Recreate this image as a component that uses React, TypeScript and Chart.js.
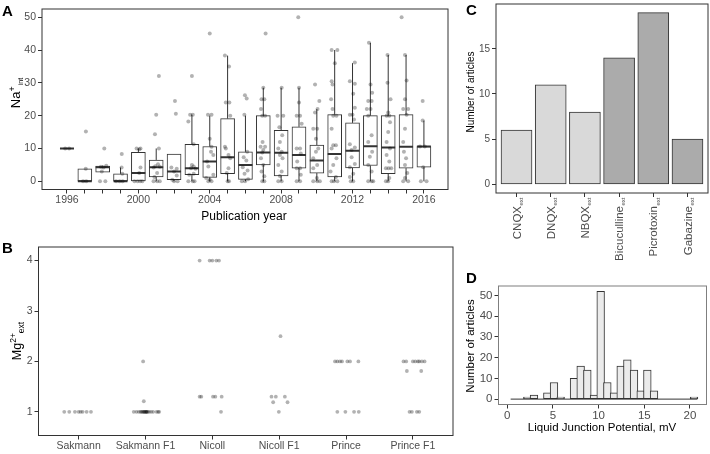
import React, { useEffect, useRef } from 'react';
import { Chart, registerables } from 'chart.js';

Chart.register(...registerables);

const FONT = '"Liberation Sans", Arial, Helvetica, sans-serif';
const TICK_COLOR = '#4d4d4d';
const INK = '#333333';
const POINT = 'rgba(0,0,0,0.3)';
const FIG_W = 710;
const FIG_H = 454;

// ---------------- Panel A: Na+ int by publication year ----------------
const naYears = [1996, 1997, 1998, 1999, 2000, 2001, 2002, 2003, 2004, 2005, 2006, 2007, 2008, 2009, 2010, 2011, 2012, 2013, 2014, 2015, 2016];
const naLow = [10, 0, 2.8, 0, 0, 0, 0, 0, 0, 0, 0, 0, 0, 0, 0, 0, 0, 0, 0, 0, 0];
const naQ1 = [10, 0, 2.8, 0, 0, 1.3, 0.5, 2, 1.2, 2.3, 0.6, 5, 1.6, 4, 2.5, 1.3, 4.1, 4.8, 2.3, 4, 4.3];
const naMedian = [10, 0, 4.3, 0, 2.5, 4.3, 3, 4, 6, 7.3, 5, 8.8, 8.7, 8, 6.3, 8.3, 9.3, 10.7, 10.3, 10.5, 10.6];
const naQ3 = [10, 3.8, 4.6, 2.3, 8.8, 6.5, 8.3, 11.3, 10.6, 19.1, 9, 20, 15.5, 16.6, 11, 20.3, 17.8, 20, 20, 20.3, 10.6];
const naHigh = [10, 3.8, 4.8, 4.2, 10, 10, 8.3, 20.3, 20, 38.3, 20, 28.5, 28.5, 28.5, 22, 40, 36, 42.2, 38.5, 38.5, 18.5];
const naYTicks = [0, 10, 20, 30, 40, 50];
const naXLabelEvery = 4;
// [year, Na+ value, horizontal jitter in years]
const naPoints: [number, number, number][] = [
  [1996, 10, -0.1], [1996, 10, 0.12],
  [1997, 15.2, 0.06], [1997, 3.8, 0.05], [1997, 0, -0.1], [1997, 0, 0.08],
  [1998, 10, 0.09], [1998, 4.7, 0.2], [1998, 4.4, -0.1], [1998, 4.2, 0.05], [1998, 3, -0.05], [1998, 0, -0.15], [1998, 0, 0.15],
  [1999, 8.3, 0.07], [1999, 4.2, 0.06], [1999, 2.3, 0.1], [1999, 0, -0.25], [1999, 0, -0.05], [1999, 0, 0.12],
  [2000, 10, -0.1], [2000, 10, 0.12], [2000, 9.8, 0.05], [2000, 4.2, 0.12], [2000, 2.5, 0.05], [2000, 0, -0.22], [2000, 0, -0.05], [2000, 0, 0.1], [2000, 0, 0.22],
  [2001, 32.1, 0.15], [2001, 20.3, 0], [2001, 14.3, -0.07], [2001, 10, 0.15], [2001, 5.2, 0.1], [2001, 4.6, -0.05], [2001, 4.4, 0.2], [2001, 4.2, -0.15], [2001, 2.5, 0.05], [2001, 1.3, -0.1], [2001, 0, -0.15], [2001, 0, 0.05], [2001, 0, 0.2],
  [2002, 24.5, 0.05], [2002, 20.6, 0.1], [2002, 4.2, -0.15], [2002, 3.8, 0.15], [2002, 3, 0], [2002, 1.8, 0.15], [2002, 0.5, -0.1], [2002, 0, 0], [2002, 0, 0.2],
  [2003, 32.1, 0], [2003, 20.3, 0.05], [2003, 20.3, -0.1], [2003, 18.2, -0.2], [2003, 11.3, 0.1], [2003, 5, 0], [2003, 4.5, 0.1], [2003, 4, -0.05], [2003, 3.8, 0.2], [2003, 2.3, 0.1], [2003, 2, -0.15], [2003, 0, -0.2], [2003, 0, 0.05], [2003, 0, 0.15],
  [2004, 45, 0], [2004, 20.3, -0.1], [2004, 20.3, 0.1], [2004, 13, 0], [2004, 10.5, 0.1], [2004, 9, 0.07], [2004, 8, 0.2], [2004, 6, -0.15], [2004, 4.5, -0.08], [2004, 2, 0.2], [2004, 1, -0.2], [2004, 0.5, 0], [2004, 0, -0.08], [2004, 0, 0.1],
  [2005, 38.3, -0.15], [2005, 35, 0.08], [2005, 24, 0.1], [2005, 24, -0.1], [2005, 20, 0.15], [2005, 10.5, -0.15], [2005, 10, -0.1], [2005, 8, 0.05], [2005, 7, 0.15], [2005, 4, 0.05], [2005, 2.5, -0.05], [2005, 0, 0], [2005, 0, 0.08],
  [2006, 26.2, -0.03], [2006, 25.2, 0.07], [2006, 20.3, -0.06], [2006, 9, 0.1], [2006, 7.3, -0.1], [2006, 6.3, 0.05], [2006, 4.3, -0.15], [2006, 3.3, 0.12], [2006, 2.3, -0.05], [2006, 0.6, 0.15], [2006, 0, -0.2], [2006, 0, -0.02],
  [2007, 45, 0.13], [2007, 28.5, 0], [2007, 25, -0.1], [2007, 25, 0.06], [2007, 22, -0.13], [2007, 20, -0.06], [2007, 20, 0.1], [2007, 12, -0.04], [2007, 10.5, -0.15], [2007, 10.5, 0.1], [2007, 9.5, 0], [2007, 8.8, -0.06], [2007, 7, -0.13], [2007, 5, 0], [2007, 3, -0.1], [2007, 1.5, 0.06], [2007, 0, -0.06], [2007, 0, 0.06],
  [2008, 28.5, 0.03], [2008, 20, -0.2], [2008, 20, 0.12], [2008, 16.5, -0.1], [2008, 14, 0.06], [2008, 12, -0.07], [2008, 10, -0.16], [2008, 9, 0.03], [2008, 8, -0.07], [2008, 7, 0.08], [2008, 5, -0.16], [2008, 3, 0.03], [2008, 1.6, -0.07], [2008, 0, -0.16], [2008, 0, 0.03],
  [2009, 50, -0.04], [2009, 28.5, 0], [2009, 24, 0], [2009, 20, -0.13], [2009, 20, 0.06], [2009, 17.5, 0.15], [2009, 10, -0.13], [2009, 10, 0.06], [2009, 8.5, 0.1], [2009, 6, -0.1], [2009, 4, -0.13], [2009, 4, 0.06], [2009, 2, 0.1], [2009, 0, -0.13], [2009, 0, 0.06],
  [2010, 29.5, -0.1], [2010, 24.5, 0.14], [2010, 22, 0.04], [2010, 21, -0.1], [2010, 16, -0.2], [2010, 16, 0.02], [2010, 13, -0.05], [2010, 10, 0.08], [2010, 9, -0.05], [2010, 7, -0.2], [2010, 5, 0.02], [2010, 4, -0.2], [2010, 1, 0], [2010, 0, -0.2], [2010, 0, 0.02], [2010, 0, 0.17],
  [2011, 40, -0.17], [2011, 40, 0.15], [2011, 36, 0.01], [2011, 30.5, -0.17], [2011, 29.5, -0.12], [2011, 25, -0.2], [2011, 22, -0.12], [2011, 20, -0.08], [2011, 20, 0.1], [2011, 16, -0.17], [2011, 11, -0.08], [2011, 11, 0.07], [2011, 10, -0.17], [2011, 7, 0.1], [2011, 5, -0.08], [2011, 3, -0.23], [2011, 1.3, 0.07], [2011, 0, -0.17], [2011, 0, -0.04], [2011, 0, 0.15],
  [2012, 36.2, 0.13], [2012, 30.5, -0.15], [2012, 29.7, 0.13], [2012, 26.7, 0.04], [2012, 22.4, 0.13], [2012, 20.3, -0.15], [2012, 20.3, 0], [2012, 18.8, 0.08], [2012, 11.3, -0.15], [2012, 10.3, 0.13], [2012, 9.5, -0.05], [2012, 7.3, -0.05], [2012, 5.3, 0.13], [2012, 4.3, -0.15], [2012, 2.3, 0.04], [2012, 1.3, -0.15], [2012, 0, -0.1], [2012, 0, 0.04],
  [2013, 42.2, -0.08], [2013, 29.5, 0.01], [2013, 27, 0.1], [2013, 24.5, -0.12], [2013, 24.5, 0.07], [2013, 22, -0.2], [2013, 22, 0.01], [2013, 20, -0.12], [2013, 14, 0.07], [2013, 12, -0.12], [2013, 9, 0.1], [2013, 7.5, -0.03], [2013, 5, -0.12], [2013, 3, 0.07], [2013, 0, -0.12], [2013, 0, 0.07], [2013, 0, 0.16],
  [2014, 38.5, -0.04], [2014, 30, -0.04], [2014, 25, 0.13], [2014, 21, 0], [2014, 20, -0.09], [2014, 20, 0.06], [2014, 18, 0.1], [2014, 15, 0], [2014, 12, -0.09], [2014, 10, 0.1], [2014, 8, -0.09], [2014, 6, 0.06], [2014, 4, -0.13], [2014, 4, 0.02], [2014, 4, 0.17], [2014, 1, 0.06], [2014, 0, -0.13], [2014, 0, 0],
  [2015, 50, -0.25], [2015, 38.5, -0.06], [2015, 30.7, 0.03], [2015, 25, -0.06], [2015, 22, -0.16], [2015, 22, 0.12], [2015, 20.3, 0.03], [2015, 16, -0.06], [2015, 12, -0.16], [2015, 9, -0.12], [2015, 7, 0], [2015, 5, -0.06], [2015, 2.5, 0.07], [2015, 1, -0.06], [2015, 0, -0.16], [2015, 0, 0.12],
  [2016, 24.5, -0.07], [2016, 18.5, -0.07], [2016, 10.6, -0.22], [2016, 10.6, 0.05], [2016, 4.3, -0.04], [2016, 0, -0.17], [2016, 0, 0.15],
];

// ---------------- Panel B: Mg2+ ext by protocol ----------------
const mgProtocols = ['Sakmann', 'Sakmann F1', 'Nicoll', 'Nicoll F1', 'Prince', 'Prince F1'];
const mgYTicks = [1, 2, 3, 4];
// [protocol index, Mg2+ value, horizontal jitter]
const mgPoints: [number, number, number][] = [
  [0, 1, -0.215], [0, 1, -0.14], [0, 1, -0.055], [0, 1, 0], [0, 1, 0.03], [0, 1, 0.06], [0, 1, 0.12], [0, 1, 0.185],
  [1, 1, -0.175], [1, 1, -0.135], [1, 1, -0.1], [1, 1, -0.075], [1, 1, -0.06], [1, 1, -0.045], [1, 1, -0.03], [1, 1, -0.02], [1, 1, -0.015],
  [1, 1, 0], [1, 1, 0.01], [1, 1, 0.015], [1, 1, 0.02], [1, 1, 0.035], [1, 1, 0.055], [1, 1, 0.085], [1, 1, 0.115], [1, 1, 0.165], [1, 1, 0.19], [1, 1, 0.205],
  [1, 2, -0.035], [1, 1.21, -0.025],
  [2, 4, -0.19], [2, 4, -0.04], [2, 4, 0], [2, 4, 0.06], [2, 4, 0.1],
  [2, 1.3, -0.19], [2, 1.3, -0.165], [2, 1.3, 0.01], [2, 1.3, 0.045], [2, 1.3, 0.14], [2, 1, 0.13],
  [3, 2.5, 0.02], [3, 1.3, -0.115], [3, 1.3, -0.05], [3, 1.3, 0.085], [3, 1.19, -0.09], [3, 1.19, 0.125], [3, 1, -0.005],
  [4, 2, -0.165], [4, 2, -0.13], [4, 2, -0.09], [4, 2, -0.06], [4, 2, 0.02], [4, 2, 0.06], [4, 2, 0.185],
  [4, 1, -0.13], [4, 1, -0.01], [4, 1, 0.12], [4, 1, 0.19],
  [5, 2, -0.14], [5, 2, -0.1], [5, 2, 0], [5, 2, 0.035], [5, 2, 0.075], [5, 2, 0.095], [5, 2, 0.135], [5, 2, 0.175],
  [5, 1.81, -0.09], [5, 1.81, 0.125], [5, 1, -0.05], [5, 1, -0.015], [5, 1, 0.06], [5, 1, 0.095],
];

// ---------------- Panel C: antagonists ----------------
const antagonists = ['CNQX', 'DNQX', 'NBQX', 'Bicuculline', 'Picrotoxin', 'Gabazine'];
const antagonistSubscript = 'ext';
const antagonistArticles = [6, 11, 8, 14, 19, 5];
const antagonistTarget = ['AMPA', 'AMPA', 'AMPA', 'GABA', 'GABA', 'GABA'];
const antagonistYTicks = [0, 5, 10, 15];

// ---------------- Panel D: liquid junction potential histogram ----------------
const ljpBinStart = 0.37;
const ljpBinWidth = 0.73;
const ljpCounts = [0, 0, 1, 2, 0, 3, 8, 1, 0, 10, 16, 14, 2, 52, 8, 3, 16, 19, 14, 4, 14, 4, 0, 0, 0, 0, 0, 1];
const ljpXTicks = [0, 5, 10, 15, 20];
const ljpYTicks = [0, 10, 20, 30, 40, 50];

// ---------------- layout (plot rectangles in page px) ----------------
type Rect = { l: number; t: number; r: number; b: number };
const rectA: Rect = { l: 42, t: 5, r: 448, b: 189.5 };
const rectB: Rect = { l: 38.5, t: 247, r: 453, b: 435.5 };
const rectC: Rect = { l: 496, t: 4, r: 708, b: 193 };
const rectD: Rect = { l: 498.5, t: 286, r: 706.5, b: 404.5 };

const TICK_LEN = 4;

function padding(rect: Rect, yW: number, xH: number) {
  return { left: rect.l - yW, top: rect.t, right: FIG_W - rect.r, bottom: FIG_H - rect.b - xH };
}

function gridOpts() {
  return { drawOnChartArea: false, drawTicks: true, tickLength: TICK_LEN, color: INK, tickColor: INK, tickWidth: 1, offset: false };
}

function yAxis(min: number, max: number, ticks: number[], size: number, width: number) {
  return {
    type: 'linear', position: 'left', min, max, bounds: 'data', stacked: false,
    afterBuildTicks: (s: any) => { s.ticks = ticks.map((v) => ({ value: v })); },
    afterFit: (s: any) => { s.width = width; s.paddingTop = 0; s.paddingBottom = 0; },
    ticks: { color: TICK_COLOR, font: { family: FONT, size }, padding: 2, autoSkip: false, maxRotation: 0, minRotation: 0, callback: (v: any) => String(v) },
    grid: gridOpts(), border: { display: false },
  };
}

function xAxis(min: number, max: number, ticks: number[], size: number, height: number, label: (v: number) => string) {
  return {
    type: 'linear', position: 'bottom', min, max, bounds: 'data', offset: false,
    afterBuildTicks: (s: any) => { s.ticks = ticks.map((v) => ({ value: v })); },
    afterFit: (s: any) => { s.height = height; s.paddingLeft = 0; s.paddingRight = 0; },
    ticks: { color: TICK_COLOR, font: { family: FONT, size }, padding: 0, autoSkip: false, maxRotation: 0, minRotation: 0, callback: (v: any) => label(Number(v)) },
    grid: gridOpts(), border: { display: false },
  };
}

function borderPlugin(color: string) {
  return {
    id: 'panelBorder',
    afterDraw(chart: any) {
      const { ctx, chartArea: a } = chart;
      ctx.save();
      ctx.strokeStyle = color;
      ctx.lineWidth = 1;
      ctx.strokeRect(a.left, a.top, a.right - a.left, a.bottom - a.top);
      ctx.restore();
    },
  };
}

const baseOptions = {
  responsive: false,
  animation: false,
  events: [],
  plugins: { legend: { display: false }, tooltip: { enabled: false } },
};

function makeA(canvas: HTMLCanvasElement) {
  const xMin = 1994.6, xMax = 2017.35;
  const pxPerYear = (rectA.r - rectA.l) / (xMax - xMin);
  const boxW = Math.round(pxPerYear * 0.78);
  const whiskers: any[] = [];
  naYears.forEach((yr, i) => {
    whiskers.push({ x: yr, y: naLow[i] }, { x: yr, y: naQ1[i] }, { x: yr, y: null });
    whiskers.push({ x: yr, y: naQ3[i] }, { x: yr, y: naHigh[i] }, { x: yr, y: null });
  });
  return new Chart(canvas, {
    type: 'bar',
    data: {
      datasets: [
        { type: 'scatter', data: naPoints.map(([yr, v, j]) => ({ x: yr + j, y: v })), backgroundColor: POINT, borderWidth: 0, pointRadius: 2, order: 0 } as any,
        { type: 'scatter', data: naYears.map((yr, i) => ({ x: yr, y: naMedian[i] })), pointStyle: 'line', pointRadius: boxW / 2, borderColor: INK, borderWidth: 2, order: 1 } as any,
        { type: 'bar', data: naYears.map((yr, i) => ({ x: yr, y: [naQ1[i], naQ3[i]] })), backgroundColor: '#ffffff', borderColor: INK, borderWidth: 1, borderSkipped: false, barThickness: boxW, order: 2 } as any,
        { type: 'line', data: whiskers, borderColor: INK, borderWidth: 1, pointRadius: 0, spanGaps: false, fill: false, order: 3 } as any,
      ],
    },
    options: {
      ...baseOptions,
      layout: { padding: padding(rectA, 30, 16) },
      scales: {
        x: xAxis(xMin, xMax, naYears, 10.5, 16, (v) => (v % naXLabelEvery === 0 ? String(v) : '')),
        y: yAxis(-2.5, 52.5, naYTicks, 10.5, 30),
      },
    } as any,
    plugins: [borderPlugin(INK)],
  });
}

function makeB(canvas: HTMLCanvasElement) {
  return new Chart(canvas, {
    type: 'scatter',
    data: {
      datasets: [
        { data: mgPoints.map(([c, v, j]) => ({ x: c + j, y: v })), backgroundColor: POINT, borderWidth: 0, pointRadius: 1.9 } as any,
      ],
    },
    options: {
      ...baseOptions,
      layout: { padding: padding(rectB, 25, 18) },
      scales: {
        x: xAxis(-0.6, 5.6, mgProtocols.map((_, i) => i), 10.5, 18, (v) => mgProtocols[Math.round(v)] ?? ''),
        y: yAxis(0.53, 4.27, mgYTicks, 10.5, 25),
      },
    } as any,
    plugins: [borderPlugin(INK)],
  });
}

function makeC(canvas: HTMLCanvasElement) {
  const unit = (rectC.r - rectC.l) / 6.2;
  const mainSize = 11.5;
  const subSize = 6;
  const labelPlugin = {
    id: 'rotatedSubLabels',
    afterDraw(chart: any) {
      const ctx = chart.ctx;
      const xs = chart.scales.x;
      const top = chart.chartArea.bottom + TICK_LEN + 0.5;
      antagonists.forEach((name, i) => {
        const x = xs.getPixelForValue(i);
        ctx.save();
        ctx.translate(x, top);
        ctx.rotate(-Math.PI / 2);
        ctx.fillStyle = TICK_COLOR;
        ctx.textAlign = 'left';
        ctx.textBaseline = 'alphabetic';
        ctx.font = `${mainSize}px ${FONT}`;
        const mw = ctx.measureText(name).width;
        ctx.font = `${subSize}px ${FONT}`;
        const sw = ctx.measureText(antagonistSubscript).width;
        ctx.font = `${mainSize}px ${FONT}`;
        ctx.fillText(name, -(mw + sw + 0.5), 4.1);
        ctx.font = `${subSize}px ${FONT}`;
        ctx.fillText(antagonistSubscript, -sw, 6.3);
        ctx.restore();
      });
    },
  };
  return new Chart(canvas, {
    type: 'bar',
    data: {
      datasets: [
        {
          data: antagonists.map((_, i) => ({ x: i, y: antagonistArticles[i] })),
          backgroundColor: antagonistTarget.map((t) => (t === 'AMPA' ? '#d9d9d9' : '#ababab')),
          borderColor: INK, borderWidth: 1, borderSkipped: false, barThickness: Math.round(unit * 0.9),
        } as any,
      ],
    },
    options: {
      ...baseOptions,
      layout: { padding: padding(rectC, 20, 6) },
      scales: {
        x: xAxis(-0.6, 5.6, antagonists.map((_, i) => i), 10, 6, () => ''),
        y: yAxis(-0.95, 19.95, antagonistYTicks, 10, 20),
      },
    } as any,
    plugins: [borderPlugin(INK), labelPlugin],
  });
}

function makeD(canvas: HTMLCanvasElement) {
  const xMin = -0.96, xMax = 21.81;
  const binPx = ((rectD.r - rectD.l) / (xMax - xMin)) * ljpBinWidth;
  const centers = ljpCounts.map((_, i) => ljpBinStart + ljpBinWidth * (i + 0.5));
  const binEnd = ljpBinStart + ljpBinWidth * ljpCounts.length;
  return new Chart(canvas, {
    type: 'bar',
    data: {
      datasets: [
        { type: 'line', data: [{ x: ljpBinStart, y: 0 }, { x: binEnd, y: 0 }], borderColor: INK, borderWidth: 1, pointRadius: 0, order: 0 } as any,
        {
          type: 'bar', data: ljpCounts.map((c, i) => ({ x: centers[i], y: c })),
          backgroundColor: '#ebebeb', borderColor: INK, borderWidth: 1, borderSkipped: false, barThickness: binPx + 1, order: 1,
        } as any,
      ],
    },
    options: {
      ...baseOptions,
      layout: { padding: padding(rectD, 20, 16) },
      scales: {
        x: xAxis(xMin, xMax, ljpXTicks, 11.5, 16, (v) => String(v)),
        y: yAxis(-2.6, 54.6, ljpYTicks, 11.5, 20),
      },
    } as any,
    plugins: [borderPlugin('#7f7f7f')],
  });
}

function Rotated({ x, y, size, children }: { x: number; y: number; size: number; children: React.ReactNode }) {
  return (
    <div style={{ position: 'absolute', left: x, top: y, width: 0, height: 0, transform: 'rotate(-90deg)' }}>
      <div style={{ position: 'absolute', left: 0, top: 0, transform: 'translate(-50%,-50%)', whiteSpace: 'nowrap', fontSize: size, lineHeight: 1, color: '#000' }}>
        {children}
      </div>
    </div>
  );
}

function Centered({ x, y, size, children }: { x: number; y: number; size: number; children: React.ReactNode }) {
  return (
    <div style={{ position: 'absolute', left: x, top: y, transform: 'translate(-50%,-50%)', whiteSpace: 'nowrap', fontSize: size, lineHeight: 1, color: '#000' }}>
      {children}
    </div>
  );
}

function Letter({ x, y, text }: { x: number; y: number; text: string }) {
  return <div style={{ position: 'absolute', left: x, top: y, fontSize: 15, fontWeight: 'bold', lineHeight: 1, color: '#000' }}>{text}</div>;
}

export default function App() {
  const refA = useRef<HTMLCanvasElement>(null);
  const refB = useRef<HTMLCanvasElement>(null);
  const refC = useRef<HTMLCanvasElement>(null);
  const refD = useRef<HTMLCanvasElement>(null);

  useEffect(() => {
    const charts = [makeA(refA.current!), makeB(refB.current!), makeC(refC.current!), makeD(refD.current!)];
    return () => charts.forEach((c) => c.destroy());
  }, []);

  const canvasStyle: React.CSSProperties = { position: 'absolute', left: 0, top: 0, width: FIG_W, height: FIG_H };

  return (
    <div style={{ position: 'fixed', left: 0, top: 0, width: FIG_W, height: FIG_H, background: '#fff', overflow: 'hidden', fontFamily: FONT }}>
      <canvas ref={refA} width={FIG_W} height={FIG_H} style={canvasStyle} />
      <canvas ref={refB} width={FIG_W} height={FIG_H} style={canvasStyle} />
      <canvas ref={refC} width={FIG_W} height={FIG_H} style={canvasStyle} />
      <canvas ref={refD} width={FIG_W} height={FIG_H} style={canvasStyle} />

      <Letter x={2} y={3} text="A" />
      <Letter x={2} y={240} text="B" />
      <Letter x={466} y={2} text="C" />
      <Letter x={466} y={270} text="D" />

      <Rotated x={15} y={93} size={13}>
        Na<span style={{ fontSize: 9, position: 'relative', top: -5 }}>+</span>
        <span style={{ fontSize: 7, position: 'relative', top: 3, marginLeft: 1 }}>int</span>
      </Rotated>
      <Centered x={244} y={216} size={12}>Publication year</Centered>

      <Rotated x={17} y={341} size={12.5}>
        Mg<span style={{ fontSize: 8.5, position: 'relative', top: -5 }}>2+</span>
        <span style={{ fontSize: 8.5, position: 'relative', top: 3 }}>ext</span>
      </Rotated>

      <Rotated x={470.5} y={92} size={10}>Number of articles</Rotated>

      <Rotated x={471} y={345.5} size={11.5}>Number of articles</Rotated>
      <Centered x={602} y={427.5} size={11.5}>Liquid Junction Potential, mV</Centered>
    </div>
  );
}
